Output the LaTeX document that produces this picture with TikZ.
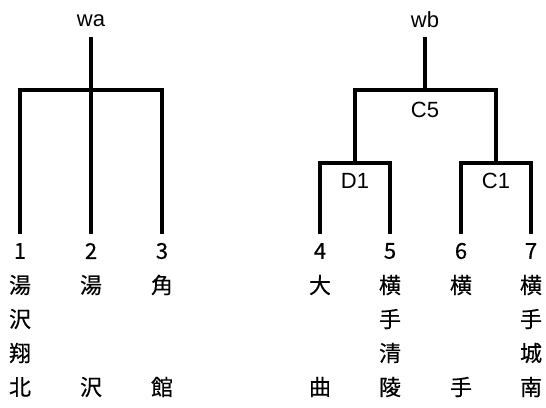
\documentclass[tikz,border=0pt]{standalone}
\usepackage{fontspec}
\setmainfont{Liberation Sans}
\newfontfamily\jpfont[FakeBold=0.4]{Noto Sans CJK JP}
\tikzset{
	branch/.style={line width=3.2pt},
	lbl/.style={inner sep=0pt, font=\fontsize{22}{22}\selectfont},
	leaf/.style={inner sep=0pt, font=\jpfont\fontsize{22}{22}\selectfont}
}
\begin{document}
\begin{tikzpicture}[x=1pt,y=-1pt]
	\useasboundingbox (0,0) rectangle (546,407);
	%coordinates
	\coordinate (Ta) at (91,37);
	\coordinate (Ja) at (91,90);
	\coordinate (Tb) at (425,37);
	\coordinate (Jb) at (425,90);
	\coordinate (Dt) at (355,163);
	\coordinate (Ct) at (496,163);
	\coordinate (L1) at (20,234);
	\coordinate (L2) at (91,234);
	\coordinate (L3) at (162,234);
	\coordinate (L4) at (320,234);
	\coordinate (L5) at (390,234);
	\coordinate (L6) at (461,234);
	\coordinate (L7) at (531,234);
	%Branches
	\draw[branch] (L1) |- (Ja) -| (L3);
	\draw[branch] (Ta) -- (L2);
	\draw[branch] (Tb) -- (Jb);
	\draw[branch] (Dt) |- (Jb) -| (Ct);
	\draw[branch] (L4) |- (Dt) -| (L5);
	\draw[branch] (L6) |- (Ct) -| (L7);
	%Labels
	\node[lbl] (wa) at (91,21) {wa};
	\node[lbl] (wb) at (425,20) {wb};
	\node[lbl] (C5) at (425,110) {C5};
	\node[lbl] (D1) at (355,181) {D1};
	\node[lbl] (C1) at (496,181) {C1};
	%Leaves
	\node[leaf] (n1) at (20,251) {1};
	\node[leaf] (n2) at (91,251) {2};
	\node[leaf] (n3) at (162,251) {3};
	\node[leaf] (n4) at (320,251) {4};
	\node[leaf] (n5) at (390,251) {5};
	\node[leaf] (n6) at (461,251) {6};
	\node[leaf] (n7) at (531,251) {7};
	\node[leaf] (k1a) at (20,285) {湯};
	\node[leaf] (k1b) at (20,319) {沢};
	\node[leaf] (k1c) at (20,353) {翔};
	\node[leaf] (k1d) at (20,387) {北};
	\node[leaf] (k2a) at (91,285) {湯};
	\node[leaf] (k2d) at (91,387) {沢};
	\node[leaf] (k3a) at (162,285) {角};
	\node[leaf] (k3d) at (162,387) {館};
	\node[leaf] (k4a) at (320,285) {大};
	\node[leaf] (k4d) at (320,387) {曲};
	\node[leaf] (k5a) at (390,285) {横};
	\node[leaf] (k5b) at (390,319) {手};
	\node[leaf] (k5c) at (390,353) {清};
	\node[leaf] (k5d) at (390,387) {陵};
	\node[leaf] (k6a) at (461,285) {横};
	\node[leaf] (k6d) at (461,387) {手};
	\node[leaf] (k7a) at (531,285) {横};
	\node[leaf] (k7b) at (531,319) {手};
	\node[leaf] (k7c) at (531,353) {城};
	\node[leaf] (k7d) at (531,387) {南};
\end{tikzpicture}
\end{document}
